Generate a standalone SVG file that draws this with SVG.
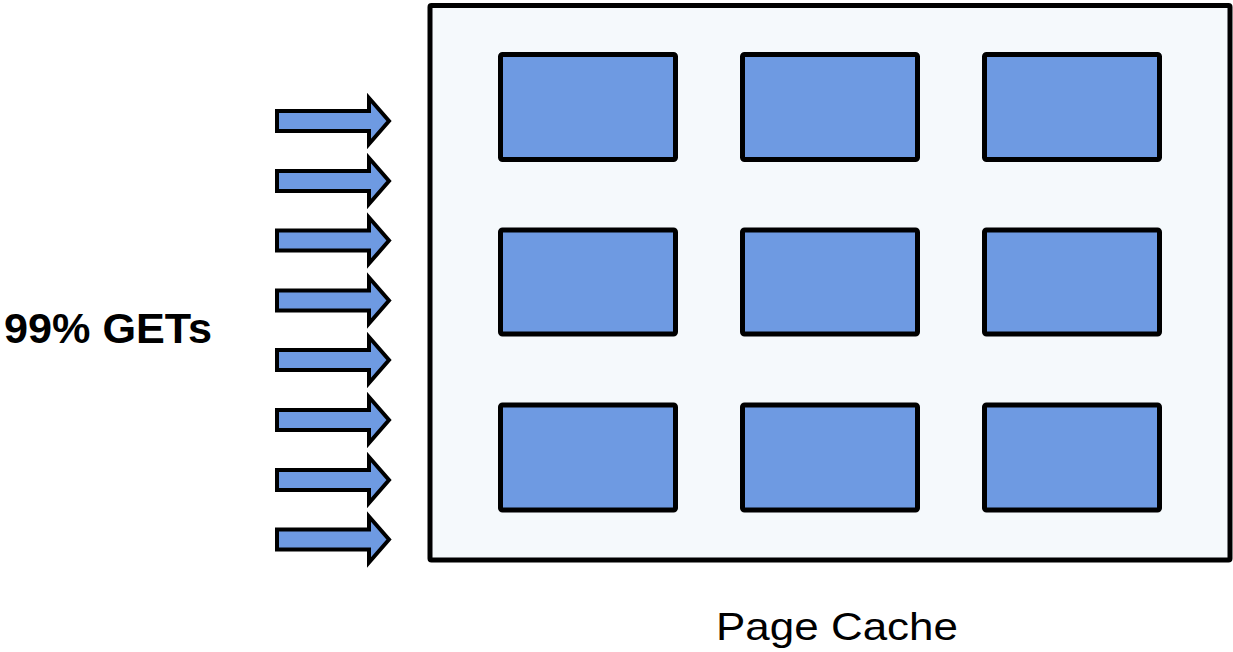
<svg xmlns="http://www.w3.org/2000/svg" width="1233" height="652" viewBox="0 0 1233 652">
<style>
.page{fill:#6E9AE2;stroke:#000;stroke-width:5;stroke-linejoin:round}
.arr{fill:#6E9AE2;stroke:#000;stroke-width:4;stroke-linejoin:miter}
.lbl{font-family:"Liberation Sans",Arial,sans-serif;fill:#000}
</style>
<defs>
<path id="arrow" d="M277,-10 L369,-10 L369,-23 L389,0 L369,23 L369,10 L277,10 Z"/>
</defs>
<rect width="1233" height="652" fill="#fff"/>
<g id="cache">
<rect x="430" y="5.5" width="800" height="554.5" fill="#F5F9FC" stroke="#000" stroke-width="5" rx="1.5"/>
</g>
<g id="pages">
<rect id="p1" class="page" x="500.5" y="54.5" width="175" height="105" rx="2"/>
<rect id="p2" class="page" x="742.5" y="54.5" width="175" height="105" rx="2"/>
<rect id="p3" class="page" x="984.5" y="54.5" width="175" height="105" rx="2"/>
<rect id="p4" class="page" x="500.5" y="230" width="175" height="104" rx="2"/>
<rect id="p5" class="page" x="742.5" y="230" width="175" height="104" rx="2"/>
<rect id="p6" class="page" x="984.5" y="230" width="175" height="104" rx="2"/>
<rect id="p7" class="page" x="500.5" y="405" width="175" height="105" rx="2"/>
<rect id="p8" class="page" x="742.5" y="405" width="175" height="105" rx="2"/>
<rect id="p9" class="page" x="984.5" y="405" width="175" height="105" rx="2"/>
</g>
<g id="connectors">
<use href="#arrow" class="arr" transform="translate(0,121)"/>
<use href="#arrow" class="arr" transform="translate(0,181)"/>
<use href="#arrow" class="arr" transform="translate(0,240.5)"/>
<use href="#arrow" class="arr" transform="translate(0,300.5)"/>
<use href="#arrow" class="arr" transform="translate(0,360)"/>
<use href="#arrow" class="arr" transform="translate(0,420)"/>
<use href="#arrow" class="arr" transform="translate(0,480)"/>
<use href="#arrow" class="arr" transform="translate(0,539.5)"/>
</g>
<g id="label-gets">
<text class="lbl" x="4" y="343" font-size="42" font-weight="bold" textLength="208" lengthAdjust="spacingAndGlyphs">99% GETs</text>
</g>
<g id="label-cache">
<text class="lbl" x="716" y="640" font-size="39" textLength="242" lengthAdjust="spacingAndGlyphs">Page Cache</text>
</g>
</svg>
